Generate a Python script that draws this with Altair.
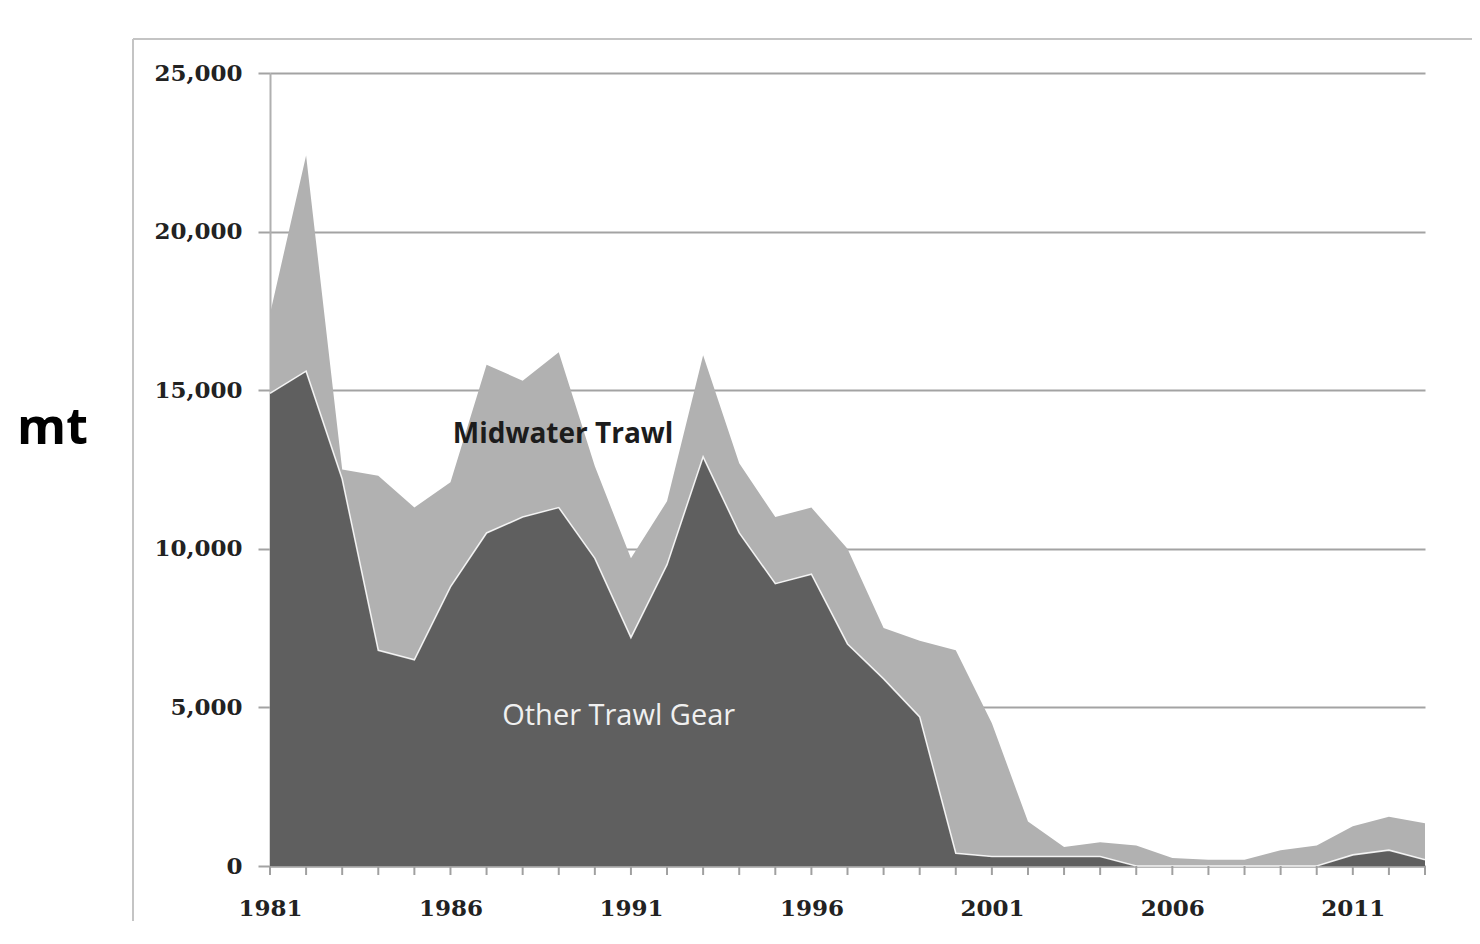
import altair as alt
import pandas as pd

# ---- data ----
years = list(range(1981, 2014))
other_trawl = [14900, 15600, 12200, 6800, 6500, 8800, 10500, 11000, 11300, 9700,
               7200, 9500, 12900, 10500, 8900, 9200, 7000, 5900, 4700, 400,
               300, 300, 300, 300, 0, 0, 0, 0, 0, 0, 350, 500, 200]
midwater_trawl = [2500, 6800, 300, 5500, 4800, 3300, 5300, 4300, 4900, 2900,
                  2500, 2000, 3200, 2200, 2100, 2100, 3000, 1600, 2400, 6400,
                  4200, 1100, 300, 450, 650, 250, 200, 200, 500, 650, 900, 1050, 1150]
series_names = ["Other Trawl Gear", "Midwater Trawl"]
series_colors = ["#5f5f5f", "#b1b1b1"]
y_ticks = [0, 5000, 10000, 15000, 20000, 25000]
x_label_years = [1981, 1986, 1991, 1996, 2001, 2006, 2011]

# in-chart labels (data coordinates)
label_text = ["Midwater Trawl", "Other Trawl Gear"]
label_year = [1989.12, 1990.66]
label_mt = [13330, 4450]

rows = []
for i, y in enumerate(years):
    rows.append({"year": y, "gear": series_names[0], "mt": other_trawl[i], "rank": 0})
    rows.append({"year": y, "gear": series_names[1], "mt": midwater_trawl[i], "rank": 1})
df = pd.DataFrame(rows)
df_other = pd.DataFrame({"year": years, "mt": other_trawl})
df_years = pd.DataFrame({"year": years})

x_enc = alt.X(
    "year:Q",
    scale=alt.Scale(domain=[1981, 2013], nice=False, zero=False),
    axis=alt.Axis(
        values=x_label_years, format="d",
        grid=False, title=None,
        ticks=False, tickSize=0,
        domainColor="#a0a0a0", domainWidth=2,
        labelFont="DejaVu Serif", labelFontWeight="bold", labelFontSize=23,
        labelColor="#222222", labelPadding=31, labelFlush=False,
    ),
)
y_enc = alt.Y(
    "mt:Q",
    stack="zero",
    scale=alt.Scale(domain=[0, 25000], nice=False),
    axis=alt.Axis(
        values=y_ticks, format=",.0f",
        title="mt", titleAngle=0, titleX=-218, titleY=370,
        titleAlign="center", titleBaseline="alphabetic",
        titleFont="Open Sans", titleFontSize=50, titleFontWeight="bold", titleColor="#000000",
        grid=True, gridColor="#a3a3a3", gridWidth=2,
        tickSize=12, tickWidth=2, tickColor="#a3a3a3",
        domainColor="#b0b0b0", domainWidth=2,
        labelFont="DejaVu Serif", labelFontWeight="bold", labelFontSize=23,
        labelColor="#222222", labelPadding=16,
    ),
)

areas = alt.Chart(df).mark_area(interpolate="linear").encode(
    x=x_enc,
    y=y_enc,
    color=alt.Color("gear:N", scale=alt.Scale(domain=series_names, range=series_colors), legend=None),
    order=alt.Order("rank:Q", sort="ascending"),
)

edge = alt.Chart(df_other).mark_line(color="#ffffff", strokeWidth=1.6, opacity=0.85).encode(
    x=alt.X("year:Q"), y=alt.Y("mt:Q")
)

# yearly tick marks below the baseline
year_ticks = alt.Chart(df_years).mark_rule(color="#a0a0a0", strokeWidth=2).encode(
    x=alt.X("year:Q"), y=alt.value(793), y2=alt.value(802)
)

lab_mid = alt.Chart(pd.DataFrame({"year": [label_year[0]], "mt": [label_mt[0]], "t": [label_text[0]]})).mark_text(
    font="Open Sans", fontSize=28, fontWeight="bold", color="#1c1c1c", align="center", baseline="alphabetic"
).encode(x=alt.X("year:Q"), y=alt.Y("mt:Q"), text="t:N")

lab_other = alt.Chart(pd.DataFrame({"year": [label_year[1]], "mt": [label_mt[1]], "t": [label_text[1]]})).mark_text(
    font="Open Sans", fontSize=29, color="#f0f0f0", align="center", baseline="alphabetic"
).encode(x=alt.X("year:Q"), y=alt.Y("mt:Q"), text="t:N")

dummy = pd.DataFrame({"a": [0]})
frame_left = alt.Chart(dummy).mark_rule(color="#c4c4c4", strokeWidth=2).encode(
    x=alt.value(-137), y=alt.value(-34), y2=alt.value(860)
)
frame_top = alt.Chart(dummy).mark_rule(color="#c4c4c4", strokeWidth=2).encode(
    x=alt.value(-137), x2=alt.value(1210), y=alt.value(-34)
)

chart = alt.layer(areas, edge, year_ticks, lab_mid, lab_other, frame_left, frame_top).properties(
    width=1155, height=793,
    padding={"left": 262, "top": 65, "right": 47, "bottom": 55},
    autosize=alt.AutoSizeParams(type="none"),
    background="white",
).configure_view(stroke=None)

chart.save("out.html", embed_options={"renderer": "svg", "actions": False})
